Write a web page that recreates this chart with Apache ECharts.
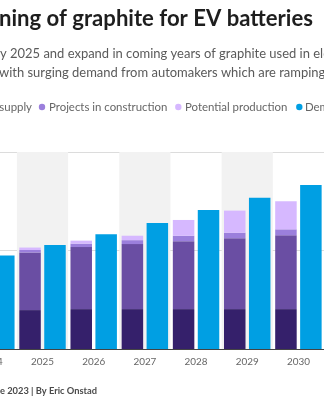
<!DOCTYPE html>
<html><head><meta charset="utf-8">
<script src="https://cdn.jsdelivr.net/npm/echarts@6/dist/echarts.min.js"></script>
<style>html,body{margin:0;padding:0;overflow:hidden;width:324px;height:400px;background:#fff}
#chart{position:absolute;left:-120px;top:0;width:444px;height:400px}</style>
</head><body><div id="chart"></div>
<script>
// ---- data ----
const years = ['2024', '2025', '2026', '2027', '2028', '2029', '2030'];
const supplyBase = [0.78, 0.79, 0.81, 0.81, 0.81, 0.81, 0.81];
const supplyMain = [1.10, 1.17, 1.26, 1.32, 1.38, 1.44, 1.50];
const projectsInConstruction = [0.03, 0.05, 0.07, 0.08, 0.11, 0.11, 0.12];
const potentialProduction = [0.03, 0.05, 0.06, 0.09, 0.32, 0.45, 0.57];
const demand = [1.90, 2.11, 2.33, 2.56, 2.82, 3.07, 3.33];
const yTicks = [0, 2, 4];

// ---- texts (visible parts of the cropped chart) ----
const titleText = 'ning of graphite for EV batteries';
const subtitleLines = [
  'y 2025 and expand in coming years of graphite used in electric',
  'with surging demand from automakers which are ramping up'
];
const legendItems = ['supply', 'Projects in construction', 'Potential production', 'Demand'];
const footerText = 'e 2023 | By Eric Onstad';

// ---- styling ----
const FAMILY = 'Lato';
const OX = 120; // container shift (the chart is cropped on the left)
const C = {
  base: '#35206b', main: '#6a4ea3', proj: '#9b7fdc', pot: '#d6b8ff', demand: '#009fe3'
};
const ctx = document.createElement('canvas').getContext('2d');
function fit(text, weight, target) {
  ctx.font = weight + ' 100px ' + FAMILY;
  return 100 * target / ctx.measureText(text).width;
}
const titleSize = fit('ning of graphite for EV batteries', 'bold', 314);
const subSize = (fit('y 2025 and expand in coming years of graphite', 'normal', 272) +
                 fit('with surging demand from automakers', 'normal', 214)) / 2;
const legSize = (fit('Projects in construction', 'normal', 118) + fit('Potential production', 'normal', 103)) / 2;
const axisSize = fit('2025', 'normal', 23);
const footSize = fit('e 2023 | By Eric Onstad', 'bold', 97);

function txt(x, y, text, size, weight, color, align) {
  return {
    type: 'text', x: OX + x, y: y, silent: true,
    style: {
      text: text, fill: color, font: weight + ' ' + size.toFixed(2) + 'px ' + FAMILY,
      textAlign: align || 'left', textVerticalAlign: 'middle', verticalAlign: 'middle', align: align || 'left'
    }
  };
}
function dot(x, y, color) {
  return { type: 'circle', silent: true, shape: { cx: OX + x, cy: y, r: 3.2 }, style: { fill: color } };
}

const graphics = [
  txt(-1, 18.5, titleText, titleSize, 'bold', '#1e1e1e'),
  txt(0, 54, subtitleLines[0], subSize, 'normal', '#5a5a5a'),
  txt(-1, 73, subtitleLines[1], subSize, 'normal', '#5a5a5a'),
  txt(32, 107, legendItems[0], legSize, 'normal', '#666', 'right'),
  dot(42, 107, C.proj),
  txt(49, 107, legendItems[1], legSize, 'normal', '#666'),
  dot(178.3, 107, C.pot),
  txt(185, 107, legendItems[2], legSize, 'normal', '#666'),
  dot(299.3, 107, C.demand),
  txt(305, 107, legendItems[3], legSize, 'normal', '#666'),
  txt(0, 391, footerText, footSize, 'bold', '#4a4a4a')
];

const chart = echarts.init(document.getElementById('chart'), null, { renderer: 'canvas' });
const barW = 21.5;
function stackSeries(name, data, color) {
  return {
    name: name, type: 'bar', stack: 'supply', data: data, barWidth: barW, barGap: '16%',
    itemStyle: { color: color }, emphasis: { disabled: true }, silent: true
  };
}
chart.setOption({
  animation: false,
  backgroundColor: '#fff',
  grid: { left: 85.75, right: 0, top: 152, bottom: 51, containLabel: false },
  xAxis: {
    type: 'category', data: years,
    axisLine: { lineStyle: { color: '#444', width: 1 } },
    axisTick: { show: false },
    axisLabel: { color: '#666', fontFamily: FAMILY, fontSize: axisSize, margin: 13, verticalAlign: 'middle' },
    splitArea: { show: true, areaStyle: { color: ['rgba(255,255,255,0)', '#f2f2f2'] } }
  },
  yAxis: {
    type: 'value', min: yTicks[0], max: yTicks[yTicks.length - 1], interval: yTicks[1] - yTicks[0],
    axisLabel: { show: false }, axisLine: { show: false }, axisTick: { show: false },
    splitLine: { lineStyle: { color: '#dcdcdc', width: 1 } }
  },
  series: [
    stackSeries('Existing supply (base)', supplyBase, C.base),
    stackSeries('Existing supply', supplyMain, C.main),
    stackSeries('Projects in construction', projectsInConstruction, C.proj),
    stackSeries('Potential production', potentialProduction, C.pot),
    { name: 'Demand', type: 'bar', data: demand, barWidth: barW, barGap: '16%',
      itemStyle: { color: C.demand }, silent: true }
  ],
  graphic: graphics
});
</script></body></html>
